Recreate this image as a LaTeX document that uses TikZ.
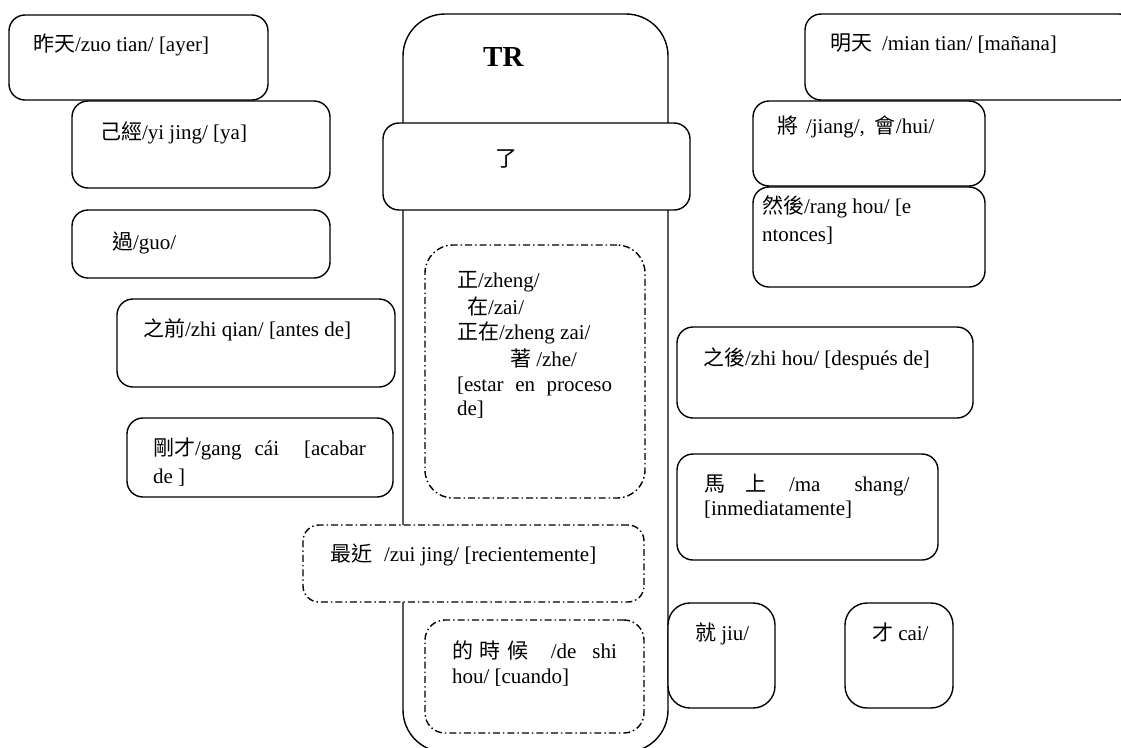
\documentclass[tikz,border=0pt]{standalone}
\usepackage{fontspec}
\setmainfont{Liberation Serif}
\newfontfamily\cjk{Noto Sans CJK TC}
\begin{document}
\begin{tikzpicture}[x=1pt,y=-1pt,
  box/.style={draw, line width=1.4pt, rounded corners=16pt, fill=white, anchor=north west, outer sep=0pt, inner sep=0pt},
  dbox/.style={box, dash pattern=on 7pt off 3pt on 1.5pt off 3pt},
  lbl/.style={anchor=base west, inner sep=0pt, outer sep=0pt, font=\fontsize{21}{24}\selectfont}]
\useasboundingbox (0,0) rectangle (1121,747);
\clip (0,0) rectangle (1121,747);
% central column
\node[box, rounded corners=42pt, minimum width=265pt, minimum height=738pt] (tr) at (403,14) {};
\node[anchor=base west, inner sep=0pt, font=\fontsize{29}{32}\selectfont\bfseries] (trt) at (483,66) {TR};
\node[box, minimum width=307pt, minimum height=87pt] (le) at (383,123) {};
\node[inner sep=0pt, font=\fontsize{22}{24}\selectfont\cjk] (let) at (506,159) {了};
\node[dbox, rounded corners=28pt, minimum width=220pt, minimum height=253pt] (zz) at (425,245) {};
\node[lbl] (zz1) at (457,287) {{\cjk 正}/zheng/};
\node[lbl] (zz2) at (467,314) {{\cjk 在}/zai/};
\node[lbl] (zz3) at (457,339) {{\cjk 正在}/zheng zai/};
\node[lbl] (zz4) at (510,366) {{\cjk 著}\ /zhe/};
\node[lbl] (zz5) at (457,391) {\makebox[155pt][s]{[estar\hfill en\hfill proceso}};
\node[lbl] (zz6) at (457,415) {de]};
\node[dbox, minimum width=341pt, minimum height=77pt] (zj) at (303,525) {};
\node[lbl] (zjt) at (330,561) {{\cjk 最近}\hspace{12pt}/zui jing/ [recientemente]};
\node[dbox, rounded corners=20pt, minimum width=219pt, minimum height=113pt] (ds) at (425,620) {};
\node[lbl] (ds1) at (452,658) {\makebox[165pt][l]{{\cjk 的}\hspace{7pt}{\cjk 時}\hspace{7pt}{\cjk 候}\hfill/de\hspace{16pt}shi}};
\node[lbl] (ds2) at (452,683) {hou/ [cuando]};
% left column
\node[box, minimum width=259pt, minimum height=85pt] (zt) at (9,15) {};
\node[lbl] (ztt) at (33,51) {{\cjk 昨天}/zuo tian/ [ayer]};
\node[box, minimum width=258pt, minimum height=87pt] (yj) at (72,101) {};
\node[lbl] (yjt) at (100,139) {{\cjk 己經}/yi jing/ [ya]};
\node[box, minimum width=258pt, minimum height=68pt] (guo) at (72,210) {};
\node[lbl] (guot) at (112,249) {{\cjk 過}/guo/};
\node[box, minimum width=278pt, minimum height=88pt] (zq) at (117,299) {};
\node[lbl] (zqt) at (143,336) {{\cjk 之前}/zhi qian/ [antes de]};
\node[box, minimum width=266pt, minimum height=79pt] (gc) at (127,418) {};
\node[lbl] (gc1) at (153,455) {{\cjk 剛才}/gang\hspace{13pt}c\'ai\hspace{25pt}[acabar};
\node[lbl] (gc2) at (153,483) {de ]};
% right column
\node[box, minimum width=330pt, minimum height=86pt] (mt) at (805,14) {};
\node[lbl] (mtt) at (830,50) {{\cjk 明天}\hspace{10pt}/mian tian/ [mañana]};
\node[box, minimum width=232pt, minimum height=85pt] (jh) at (753,101) {};
\node[lbl] (jht) at (777,133) {{\cjk 將}\hspace{8pt}/jiang/,\hspace{10pt}{\cjk 會}/hui/};
\node[box, minimum width=232pt, minimum height=100pt] (rh) at (753,187) {};
\node[lbl] (rh1) at (762,213) {{\cjk 然後}/rang hou/ [e};
\node[lbl] (rh2) at (762,241) {ntonces]};
\node[box, minimum width=296pt, minimum height=91pt] (zh) at (677,327) {};
\node[lbl] (zht) at (703,365) {{\cjk 之後}/zhi hou/ [después de]};
\node[box, minimum width=261pt, minimum height=106pt] (ms) at (677,454) {};
\node[lbl] (ms1) at (704,491) {{\cjk 馬}\hspace{20pt}{\cjk 上}\hspace{23pt}/ma\hspace{34pt}shang/};
\node[lbl] (ms2) at (704,515) {[inmediatamente]};
\node[box, rounded corners=22pt, minimum width=107pt, minimum height=105pt] (jiu) at (668,603) {};
\node[lbl] (jiut) at (695,640) {{\cjk 就} jiu/};
\node[box, rounded corners=22pt, minimum width=108pt, minimum height=105pt] (cai) at (845,603) {};
\node[lbl] (cait) at (872,640) {{\cjk 才} cai/};
\end{tikzpicture}
\end{document}
